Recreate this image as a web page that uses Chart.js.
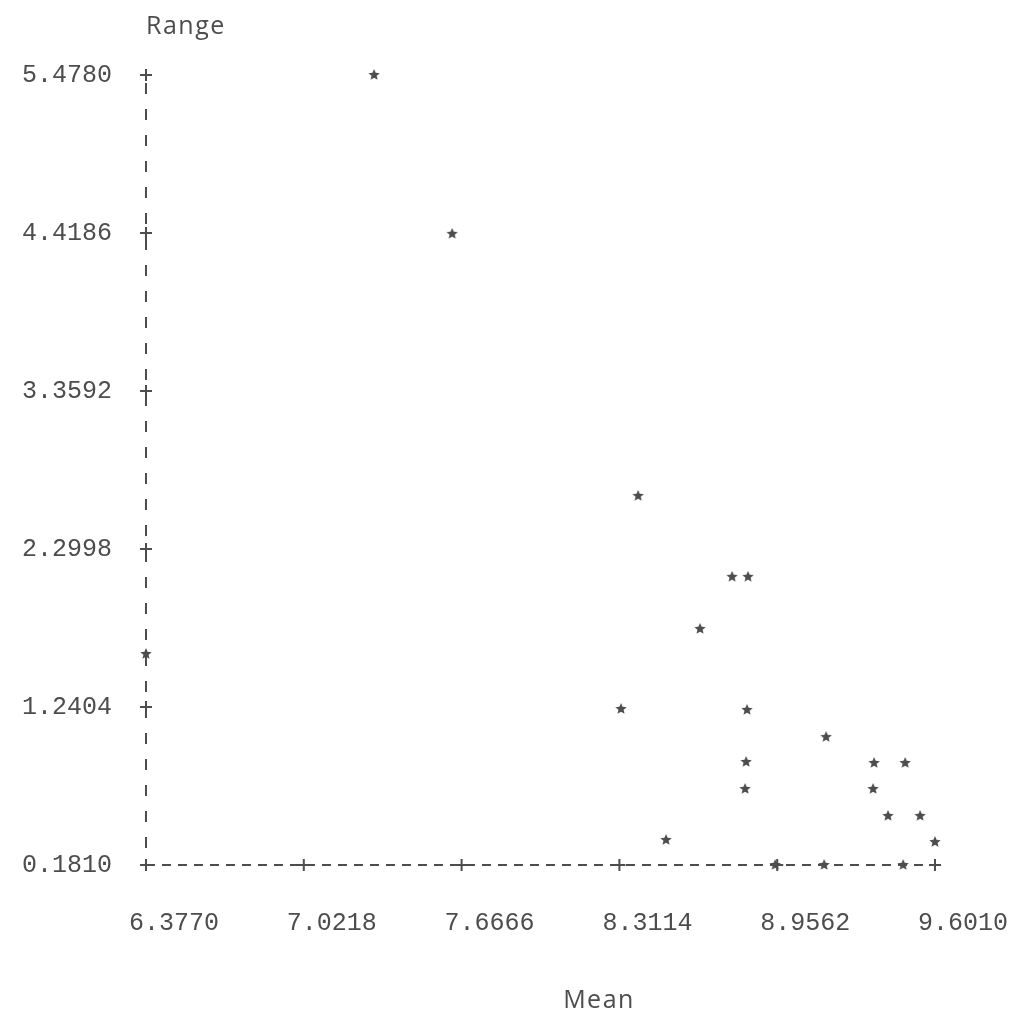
<!DOCTYPE html>
<html>
<head>
<meta charset="utf-8">
<script src="https://cdn.jsdelivr.net/npm/chart.js@4.4.1/dist/chart.umd.min.js"></script>
<style>
  html, body { margin: 0; padding: 0; background: #fff; }
</style>
</head>
<body>
<canvas id="chart" width="1011" height="1018"></canvas>
<script>
// values
const meanValues  = [7.309, 7.628, 6.377, 8.388, 8.772, 8.837, 8.641, 8.318, 8.833, 9.156, 8.829,
                     9.352, 9.479, 8.825, 9.348, 9.409, 9.540, 8.502, 9.601, 8.948, 9.148, 9.471];
const rangeValues = [5.478, 4.413, 1.596, 2.656, 2.113, 2.113, 1.764, 1.227, 1.221, 1.039, 0.872,
                     0.865, 0.865, 0.691, 0.691, 0.510, 0.510, 0.349, 0.335, 0.181, 0.181, 0.181];
const xTicks = [6.3770, 7.0218, 7.6666, 8.3114, 8.9562, 9.6010];
const yTicks = [0.1810, 1.2404, 2.2998, 3.3592, 4.4186, 5.4780];
const xTitle = 'Mean';
const yTitle = 'Range';

const ink = '#4d4d4d';
const monoFamily = '"Liberation Mono", "Courier New", monospace';

// small filled star, like the printer asterisk
function makeStar(size) {
  const c = document.createElement('canvas');
  c.width = size; c.height = size;
  const g = c.getContext('2d');
  const r = size / 2, ri = r * 0.45;
  g.beginPath();
  for (let i = 0; i < 10; i++) {
    const rad = i % 2 ? ri : r;
    const a = -Math.PI / 2 + i * Math.PI / 5;
    g.lineTo(r + rad * Math.cos(a), r + rad * Math.sin(a));
  }
  g.closePath();
  g.fillStyle = ink;
  g.fill();
  return c;
}
const star = makeStar(12);

const points = meanValues.map((m, i) => ({ x: m, y: rangeValues[i] }));

// dashed axes with '+' at each tick, drawn under the points
const printerAxes = {
  id: 'printerAxes',
  beforeDatasetsDraw(chart) {
    const { ctx, scales: { x, y } } = chart;
    ctx.save();
    ctx.strokeStyle = ink;
    ctx.lineWidth = 2;

    ctx.setLineDash([9, 7]);
    ctx.beginPath();
    ctx.moveTo(x.left, y.bottom); ctx.lineTo(x.right, y.bottom);
    ctx.stroke();

    ctx.setLineDash([11, 15]);
    ctx.lineDashOffset = -8;
    ctx.beginPath();
    ctx.moveTo(x.left, y.top); ctx.lineTo(x.left, y.bottom);
    ctx.stroke();

    ctx.setLineDash([]);
    const plus = (px, py) => {
      ctx.beginPath();
      ctx.moveTo(px - 6, py); ctx.lineTo(px + 6, py);
      ctx.moveTo(px, py - 6); ctx.lineTo(px, py + 6);
      ctx.stroke();
    };
    xTicks.forEach(v => plus(x.getPixelForValue(v), y.bottom));
    yTicks.forEach(v => plus(x.left, y.getPixelForValue(v)));

    ctx.fillStyle = ink;
    ctx.font = '25px "Open Sans", sans-serif';
    ctx.letterSpacing = '1.5px';
    ctx.textBaseline = 'alphabetic';
    ctx.textAlign = 'left';
    ctx.fillText(yTitle, x.left, 34);
    ctx.textAlign = 'center';
    ctx.fillText(xTitle, 599, 1008);
    ctx.restore();
  }
};

new Chart(document.getElementById('chart'), {
  type: 'scatter',
  data: {
    datasets: [{
      data: points,
      pointStyle: star,
      pointRadius: 6,
      clip: false
    }]
  },
  options: {
    responsive: false,
    animation: false,
    layout: { padding: { left: 0, top: 75, right: 76, bottom: 0 } },
    plugins: {
      legend: { display: false },
      tooltip: { enabled: false }
    },
    scales: {
      x: {
        type: 'linear',
        min: xTicks[0],
        max: xTicks[xTicks.length - 1],
        afterBuildTicks: s => { s.ticks = xTicks.map(v => ({ value: v })); },
        afterFit: s => { s.height = 153; s.paddingLeft = 0; s.paddingRight = 0; },
        grid: { display: false, drawTicks: false },
        border: { display: false },
        ticks: {
          color: ink,
          font: { family: monoFamily, size: 25 },
          padding: 43,
          labelOffset: 28,
          maxRotation: 0,
          autoSkip: false,
          callback: v => Number(v).toFixed(4)
        }
      },
      y: {
        type: 'linear',
        min: yTicks[0],
        max: yTicks[yTicks.length - 1],
        afterBuildTicks: s => { s.ticks = yTicks.map(v => ({ value: v })); },
        afterFit: s => { s.width = 146; s.paddingTop = 0; s.paddingBottom = 0; },
        grid: { display: false, drawTicks: false },
        border: { display: false },
        ticks: {
          color: ink,
          font: { family: monoFamily, size: 25 },
          padding: 34,
          autoSkip: false,
          callback: v => Number(v).toFixed(4)
        }
      }
    }
  },
  plugins: [printerAxes]
});
</script>
</body>
</html>
